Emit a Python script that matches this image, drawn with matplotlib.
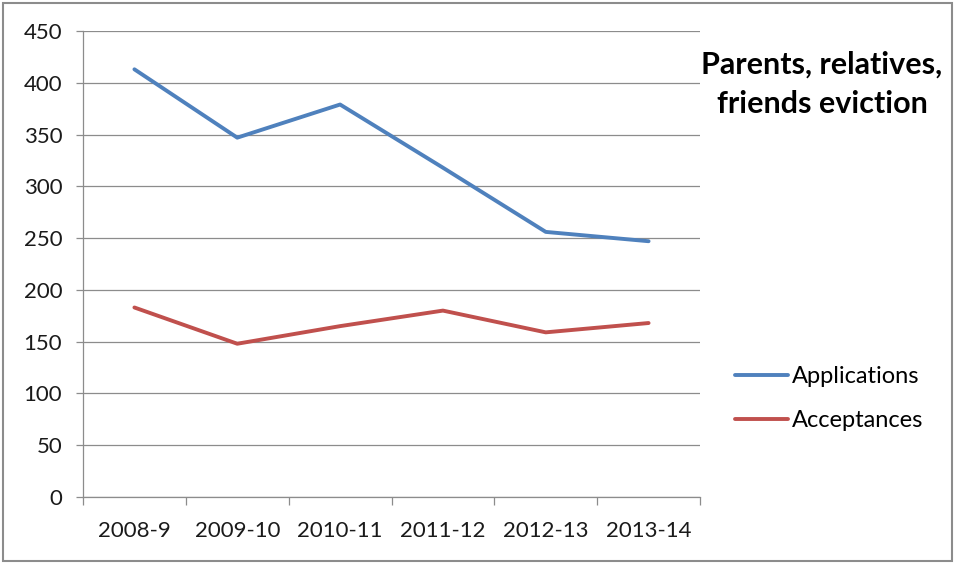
import matplotlib.pyplot as plt
from matplotlib.patches import Rectangle
import numpy as np

years = ['2008-9', '2009-10', '2010-11', '2011-12', '2012-13', '2013-14']
applications = [413, 347, 379, 318, 256, 247]
acceptances = [183, 148, 165, 180, 159, 168]

plt.rcParams['font.family'] = ['Lato', 'DejaVu Sans']

fig = plt.figure(figsize=(9.57, 5.63), dpi=100)
ax = fig.add_axes([83 / 957, 66 / 563, 617 / 957, 466 / 563])

x = np.arange(len(years))
ax.plot(x, applications, color='#4F81BD', lw=2.8, solid_capstyle='round', label='Applications')
ax.plot(x, acceptances, color='#C0504D', lw=2.8, solid_capstyle='round', label='Acceptances')

ax.set_xlim(-0.5, len(years) - 0.5)
ax.set_ylim(0, 450)
ax.set_yticks(range(0, 451, 50))
ax.yaxis.grid(True, color='#8c8c8c', lw=0.9)
ax.set_axisbelow(True)

# category labels centred, tick marks on the boundaries
ax.set_xticks(x)
ax.set_xticklabels(years)
ax.set_xticks(np.arange(-0.5, len(years)), minor=True)
ax.tick_params(axis='x', which='major', length=0, pad=17, labelsize=16, labelcolor='#1a1a1a')
ax.tick_params(axis='x', which='minor', length=6, color='#8c8c8c', width=0.9)
ax.tick_params(axis='y', length=5, color='#8c8c8c', width=0.9, pad=10, labelsize=16, labelcolor='#1a1a1a')

for side in ['top', 'right']:
    ax.spines[side].set_visible(False)
for side in ['left', 'bottom']:
    ax.spines[side].set_color('#8c8c8c')
    ax.spines[side].set_linewidth(0.9)

fig.text(822 / 957, 1 - 84 / 563, 'Parents, relatives,\nfriends eviction',
         ha='center', va='center', fontsize=22, fontweight='bold', linespacing=1.5)

fig.legend(loc='center left', bbox_to_anchor=(735 / 957, 1 - 398.5 / 563), frameon=False,
           fontsize=17, handlelength=2.25, handletextpad=0.15, labelspacing=0.97,
           borderpad=0, borderaxespad=0)

fig.patches.append(Rectangle((3 / 957, 2 / 563), 949 / 957, 558 / 563, transform=fig.transFigure,
                             fill=False, edgecolor='#8c8c8c', lw=1.5))

fig.savefig('out.png', dpi=100)
